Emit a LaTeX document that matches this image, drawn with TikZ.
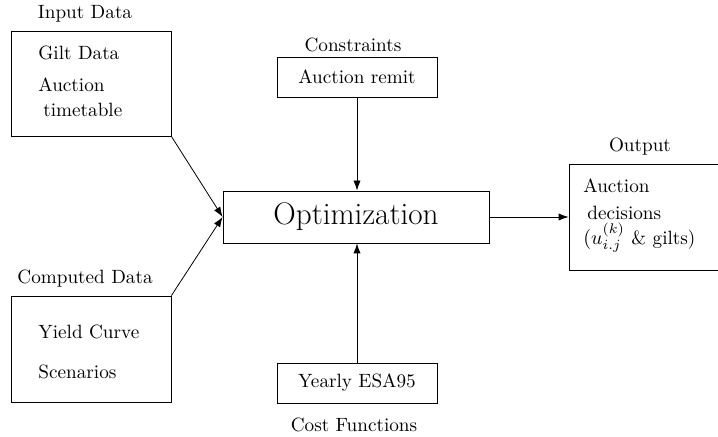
\documentclass[tikz,border=0pt]{standalone}
\usepackage{amsmath}
\usepackage{amssymb}
\usetikzlibrary{positioning,arrows.meta}

\begin{document}
\begin{tikzpicture}[x=0.5pt,y=0.5pt,>={Latex[length=5pt,width=3.6pt]},font=\fontsize{9.6pt}{11.5pt}\selectfont]
   \useasboundingbox (0,0) rectangle (718,437);
   \tikzset{blk/.style={draw,rectangle,inner sep=0pt},
            txt/.style={inner sep=0pt,anchor=west}}
   \node[blk,minimum width=80pt,minimum height=52.5pt] (inp) at (91,353.5) {};
   \node[blk,minimum width=80pt,minimum height=53pt] (comp) at (91,88) {};
   \node[blk,minimum width=80pt,minimum height=20pt] (cons) at (357,360) {Auction remit};
   \node[blk,minimum width=80pt,minimum height=20pt] (cost) at (357,54) {Yearly ESA95};
   \node[blk,minimum width=133pt,minimum height=26pt,font=\fontsize{15.6pt}{18pt}\selectfont] (opt) at (356,220) {Optimization};
   \node[blk,minimum width=80.5pt,minimum height=53pt] (out) at (649.5,220) {};
   \foreach \pos/\name/\disp in {{(85,423)/inplab/Input Data}, {(85,158)/complab/Computed Data},
      {(353,392)/conslab/Constraints}, {(354,12)/costlab/Cost Functions}, {(640,290)/outlab/Output}}
   \node[inner sep=0pt] (\name) at \pos {\disp};
   \foreach \pos/\name/\disp in {{(38,384)/gilt/Gilt Data}, {(38,352)/auct/Auction}, {(43,327)/time/timetable},
      {(38,105)/yield/Yield Curve}, {(38,65)/scen/Scenarios}, {(583,251)/oauct/Auction}, {(587,224)/odec/decisions}}
   \node[txt] (\name) at \pos {\disp};
   \node[txt] (ogilt) at (583,199) {$(u^{(k)}_{i.j}$ \& gilts)};
   \draw[->] (inp.south east) -- (opt.west); % inputs into the optimizer
   \draw[->] (comp.north east) -- (opt.west);
   \draw[->] (cons.south) -- (cons.south |- opt.north);
   \draw[->] (cost.north) -- (cost.north |- opt.south);
   \draw[->] (opt.east) -- (out.west);
\end{tikzpicture}
\end{document}
